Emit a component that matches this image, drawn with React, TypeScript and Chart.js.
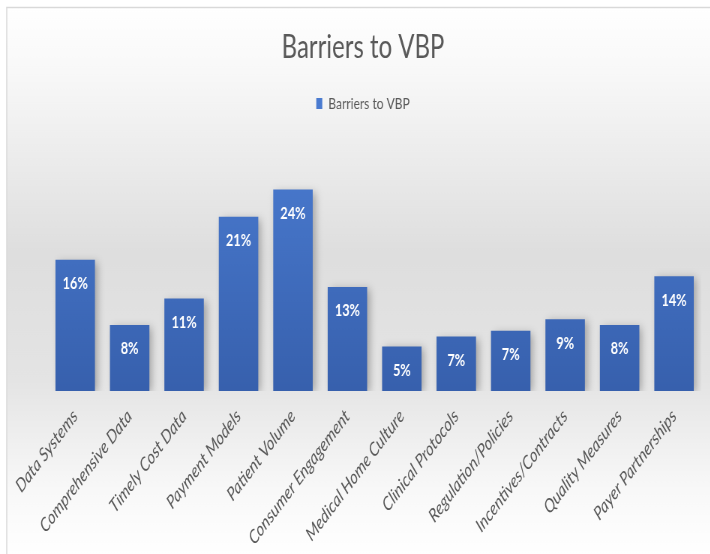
import React, { useEffect, useRef } from "react";
import { Chart, registerables } from "chart.js";

Chart.register(...registerables);

const categories = [
  "Data Systems",
  "Comprehensive Data",
  "Timely Cost Data",
  "Payment Models",
  "Patient Volume",
  "Consumer Engagement",
  "Medical Home Culture",
  "Clinical Protocols",
  "Regulation/Policies",
  "Incentives/Contracts",
  "Quality Measures",
  "Payer Partnerships",
];
const seriesName = "Barriers to VBP";
const values = [15.9, 8.0, 11.2, 21.1, 24.4, 12.6, 5.4, 6.6, 7.3, 8.7, 8.0, 13.9];

const SX = 0.75;
const W = Math.round(710 / SX);
const H = 554;
const FONT = "Lato, 'Open Sans', sans-serif";

const bgPlugin = {
  id: "bgPlugin",
  beforeInit(chart: any) {
    const lg = chart.legend;
    if (lg) {
      const fit = lg.fit;
      lg.fit = function () {
        fit.call(this);
        this.height += 22;
      };
    }
  },
  beforeDraw(chart: any) {
    const ctx = chart.ctx;
    ctx.save();
    ctx.fillStyle = "#ffffff";
    ctx.fillRect(0, 0, chart.width, chart.height);
    const g = ctx.createLinearGradient(0, 8, 0, H);
    g.addColorStop(0, "#ffffff");
    g.addColorStop(0.12, "#f8f8f8");
    g.addColorStop(0.45, "#dedede");
    g.addColorStop(0.68, "#e4e4e4");
    g.addColorStop(0.88, "#f8f8f8");
    g.addColorStop(1, "#ffffff");
    ctx.fillStyle = g;
    ctx.fillRect(9, 8, chart.width - 9, chart.height - 8);
    ctx.strokeStyle = "#d9d9d9";
    ctx.lineWidth = 1.5;
    ctx.beginPath();
    ctx.moveTo(9, chart.height);
    ctx.lineTo(9, 7.5);
    ctx.lineTo(chart.width, 7.5);
    ctx.stroke();
    ctx.restore();
  },
  beforeDatasetsDraw(chart: any) {
    const ctx = chart.ctx;
    ctx.save();
    ctx.shadowColor = "rgba(0,0,0,0.28)";
    ctx.shadowBlur = 9;
    ctx.shadowOffsetX = 4;
    ctx.shadowOffsetY = 2;
  },
  afterDatasetsDraw(chart: any) {
    const ctx = chart.ctx;
    ctx.restore();
    const meta = chart.getDatasetMeta(0);
    ctx.save();
    ctx.fillStyle = "#ffffff";
    ctx.font = `bold 17px ${FONT}`;
    ctx.textAlign = "center";
    ctx.textBaseline = "middle";
    meta.data.forEach((bar: any, i: number) => {
      const v = chart.data.datasets[0].data[i];
      ctx.fillText(Math.round(v) + "%", bar.x, bar.y + 24);
    });
    ctx.restore();
  },
};

export default function App() {
  const ref = useRef<HTMLCanvasElement | null>(null);
  useEffect(() => {
    document.body.style.overflow = "hidden";
    const canvas = ref.current!;
    const chart = new Chart(canvas, {
      type: "bar",
      data: {
        labels: categories,
        datasets: [
          {
            label: seriesName,
            data: values,
            backgroundColor: (c: any) => {
              const ca = c.chart.chartArea;
              if (!ca) return "#4472c4";
              const g = c.chart.ctx.createLinearGradient(0, ca.top, 0, ca.bottom);
              g.addColorStop(0, "#4a7bd0");
              g.addColorStop(1, "#3760ad");
              return g;
            },
            borderWidth: 0,
            categoryPercentage: 0.725,
            barPercentage: 1,
          },
        ],
      },
      options: {
        responsive: false,
        animation: false,
        devicePixelRatio: 1,
        layout: { padding: { left: 33, right: 12, top: 0, bottom: 0 } },
        plugins: {
          title: {
            display: true,
            text: "Barriers to VBP",
            color: "#595959",
            font: { family: FONT, size: 32, weight: "normal" },
            padding: { top: 28, bottom: 19 },
          },
          legend: {
            display: true,
            labels: {
              color: "#595959",
              font: { family: FONT, size: 16 },
              boxWidth: 8,
              boxHeight: 11,
              padding: 10,
            },
          },
          tooltip: { enabled: false },
        },
        scales: {
          x: {
            grid: { display: false },
            border: { display: false },
            ticks: {
              color: "#595959",
              font: { family: FONT, size: 19, style: "italic" },
              maxRotation: 45,
              minRotation: 45,
              padding: 6,
              autoSkip: false,
            },
            afterFit: (s: any) => {
              s.height = H - 391;
            },
          },
          y: {
            display: true,
            min: 0,
            max: 30,
            grid: { display: false },
            border: { display: false },
            ticks: { display: false },
            afterFit: (s: any) => {
              s.width = 31;
            },
          },
        },
      },
      plugins: [bgPlugin],
    });
    return () => chart.destroy();
  }, []);
  return (
    <div
      style={{
        position: "absolute",
        left: 0,
        top: 0,
        width: W,
        height: H,
        transform: `scaleX(${SX})`,
        transformOrigin: "0 0",
      }}
    >
      <canvas ref={ref} width={W} height={H} style={{ display: "block" }} />
    </div>
  );
}
